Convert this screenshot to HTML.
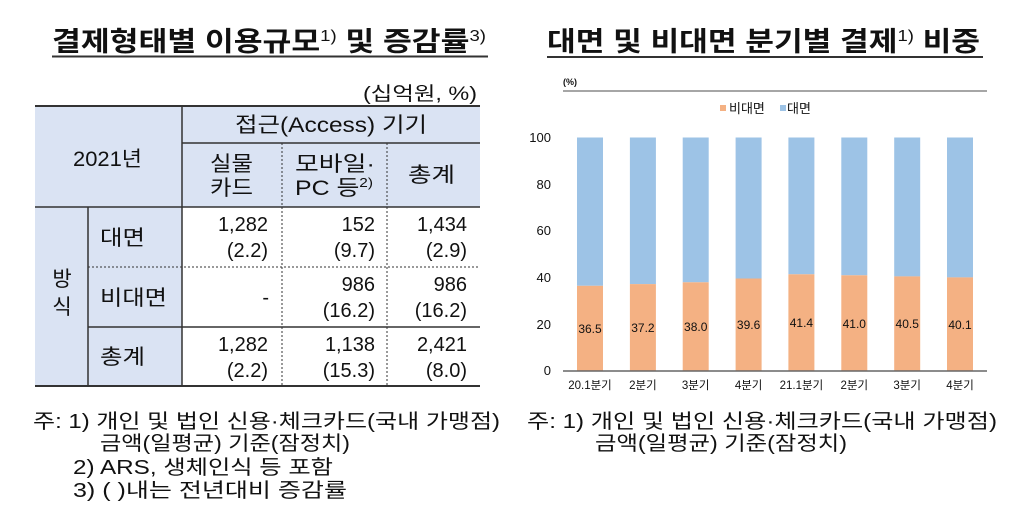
<!DOCTYPE html>
<html><head><meta charset="utf-8"><style>
html,body{margin:0;padding:0;background:#fff;}
svg{display:block;}
text{fill:#111;}
</style></head><body>
<svg width="1024" height="521" viewBox="0 0 1024 521" xmlns="http://www.w3.org/2000/svg" font-family="'Liberation Sans','Noto Sans CJK KR',sans-serif">
<!-- Left title -->
<text x="52" y="51" font-size="27" font-weight="bold" textLength="434" lengthAdjust="spacingAndGlyphs">결제형태별 이용규모<tspan font-size="16" font-weight="normal" dy="-10">1)</tspan><tspan dy="10"> 및 증감률</tspan><tspan font-size="16" font-weight="normal" dy="-10">3)</tspan></text>
<line x1="52" y1="56.5" x2="488" y2="56.5" stroke="#333" stroke-width="2"/>
<!-- Right title -->
<text x="547" y="51" font-size="27" font-weight="bold" textLength="433" lengthAdjust="spacingAndGlyphs">대면 및 비대면 분기별 결제<tspan font-size="16" font-weight="normal" dy="-10">1)</tspan><tspan dy="10"> 비중</tspan></text>
<line x1="547" y1="57" x2="983" y2="57" stroke="#333" stroke-width="2"/>

<!-- Unit -->
<text x="363" y="100" font-size="19" textLength="114" lengthAdjust="spacingAndGlyphs">(십억원, %)</text>

<!-- Table backgrounds -->
<rect x="35" y="106" width="445" height="101" fill="#dae3f3"/>
<rect x="35" y="207" width="147" height="179" fill="#dae3f3"/>

<!-- Table lines -->
<g stroke="#333">
<line x1="35" y1="106" x2="480" y2="106" stroke-width="2"/>
<line x1="182" y1="143" x2="480" y2="143" stroke-width="1.5"/>
<line x1="35" y1="207" x2="480" y2="207" stroke-width="1.5"/>
<line x1="88" y1="267" x2="480" y2="267" stroke-width="1" stroke-dasharray="2 2"/>
<line x1="88" y1="327" x2="480" y2="327" stroke-width="1.5"/>
<line x1="35" y1="386" x2="480" y2="386" stroke-width="2"/>
<line x1="182" y1="106" x2="182" y2="386" stroke-width="1.5"/>
<line x1="88" y1="207" x2="88" y2="386" stroke-width="1.5"/>
<line x1="282" y1="143" x2="282" y2="386" stroke-width="1" stroke-dasharray="2 2"/>
<line x1="387" y1="143" x2="387" y2="386" stroke-width="1" stroke-dasharray="2 2"/>
</g>

<!-- Header text -->
<text x="235" y="132" font-size="21" textLength="192" lengthAdjust="spacingAndGlyphs">접근(Access) 기기</text>
<text x="73" y="166" font-size="21" textLength="69" lengthAdjust="spacingAndGlyphs">2021년</text>
<text x="210" y="171" font-size="21" textLength="43" lengthAdjust="spacingAndGlyphs">실물</text>
<text x="210" y="195" font-size="21" textLength="43" lengthAdjust="spacingAndGlyphs">카드</text>
<text x="295" y="171" font-size="21" textLength="80" lengthAdjust="spacingAndGlyphs">모바일·</text>
<text x="295" y="195" font-size="21" textLength="78" lengthAdjust="spacingAndGlyphs">PC 등<tspan font-size="13" dy="-8">2)</tspan></text>
<text x="408" y="182" font-size="21" textLength="47" lengthAdjust="spacingAndGlyphs">총계</text>

<!-- Row headers -->
<text x="62" y="286" font-size="21" text-anchor="middle">방</text>
<text x="62" y="314" font-size="21" text-anchor="middle">식</text>
<text x="100" y="245" font-size="21" textLength="45" lengthAdjust="spacingAndGlyphs">대면</text>
<text x="100" y="305" font-size="21" textLength="67" lengthAdjust="spacingAndGlyphs">비대면</text>
<text x="100" y="364" font-size="21" textLength="45" lengthAdjust="spacingAndGlyphs">총계</text>

<!-- Body numbers -->
<g font-size="20" text-anchor="end">
<text x="268" y="231">1,282</text>
<text x="268" y="257">(2.2)</text>
<text x="375" y="231">152</text>
<text x="375" y="257">(9.7)</text>
<text x="467" y="231">1,434</text>
<text x="467" y="257">(2.9)</text>

<text x="269" y="304">-</text>
<text x="375" y="291">986</text>
<text x="375" y="317">(16.2)</text>
<text x="467" y="291">986</text>
<text x="467" y="317">(16.2)</text>

<text x="268" y="351">1,282</text>
<text x="268" y="377">(2.2)</text>
<text x="375" y="351">1,138</text>
<text x="375" y="377">(15.3)</text>
<text x="467" y="351">2,421</text>
<text x="467" y="377">(8.0)</text>
</g>

<!-- Left notes -->
<g font-size="20">
<text x="33" y="428" textLength="467" lengthAdjust="spacingAndGlyphs">주: 1) 개인 및 법인 신용·체크카드(국내 가맹점)</text>
<text x="100" y="450" textLength="250" lengthAdjust="spacingAndGlyphs">금액(일평균) 기준(잠정치)</text>
<text x="73" y="474" textLength="260" lengthAdjust="spacingAndGlyphs">2) ARS, 생체인식 등 포함</text>
<text x="73" y="497" textLength="274" lengthAdjust="spacingAndGlyphs">3) ( )내는 전년대비 증감률</text>
</g>

<!-- Right chart -->
<text x="563" y="85" font-size="9" font-weight="bold">(%)</text>
<line x1="563" y1="91" x2="987" y2="91" stroke="#888" stroke-width="1.5"/>

<rect x="720" y="105" width="6" height="6" fill="#f4b183"/>
<text x="729" y="113" font-size="13">비대면</text>
<rect x="780" y="105" width="6" height="6" fill="#9dc3e6"/>
<text x="787" y="113" font-size="13">대면</text>

<g font-size="13" text-anchor="end" fill="#222">
<text x="551" y="142">100</text>
<text x="551" y="189">80</text>
<text x="551" y="235">60</text>
<text x="551" y="282">40</text>
<text x="551" y="329">20</text>
<text x="551" y="375">0</text>
</g>

<!-- Bars -->
<g>
<rect x="577" y="137.5" width="26" height="148.3" fill="#9dc3e6"/>
<rect x="577" y="285.8" width="26" height="85.2" fill="#f4b183"/>
<rect x="629.9" y="137.5" width="26" height="146.6" fill="#9dc3e6"/>
<rect x="629.9" y="284.1" width="26" height="86.9" fill="#f4b183"/>
<rect x="682.7" y="137.5" width="26" height="144.8" fill="#9dc3e6"/>
<rect x="682.7" y="282.3" width="26" height="88.7" fill="#f4b183"/>
<rect x="735.6" y="137.5" width="26" height="141" fill="#9dc3e6"/>
<rect x="735.6" y="278.5" width="26" height="92.5" fill="#f4b183"/>
<rect x="788.4" y="137.5" width="26" height="136.8" fill="#9dc3e6"/>
<rect x="788.4" y="274.3" width="26" height="96.7" fill="#f4b183"/>
<rect x="841.3" y="137.5" width="26" height="137.8" fill="#9dc3e6"/>
<rect x="841.3" y="275.3" width="26" height="95.7" fill="#f4b183"/>
<rect x="894.2" y="137.5" width="26" height="138.9" fill="#9dc3e6"/>
<rect x="894.2" y="276.4" width="26" height="94.6" fill="#f4b183"/>
<rect x="947" y="137.5" width="26" height="139.9" fill="#9dc3e6"/>
<rect x="947" y="277.4" width="26" height="93.6" fill="#f4b183"/>
</g>

<g font-size="12" text-anchor="middle" fill="#222">
<text x="590" y="333">36.5</text>
<text x="642.9" y="332">37.2</text>
<text x="695.7" y="331">38.0</text>
<text x="748.6" y="329">39.6</text>
<text x="801.4" y="327">41.4</text>
<text x="854.3" y="328">41.0</text>
<text x="907.2" y="328">40.5</text>
<text x="960" y="329">40.1</text>
</g>

<line x1="563" y1="371" x2="987" y2="371" stroke="#666" stroke-width="1.5"/>

<g font-size="11.5" text-anchor="middle" fill="#222">
<text x="590" y="389">20.1분기</text>
<text x="642.9" y="389">2분기</text>
<text x="695.7" y="389">3분기</text>
<text x="748.6" y="389">4분기</text>
<text x="801.4" y="389">21.1분기</text>
<text x="854.3" y="389">2분기</text>
<text x="907.2" y="389">3분기</text>
<text x="960" y="389">4분기</text>
</g>

<!-- Right notes -->
<g font-size="20">
<text x="527" y="428" textLength="470" lengthAdjust="spacingAndGlyphs">주: 1) 개인 및 법인 신용·체크카드(국내 가맹점)</text>
<text x="595" y="450" textLength="252" lengthAdjust="spacingAndGlyphs">금액(일평균) 기준(잠정치)</text>
</g>
</svg>
</body></html>
